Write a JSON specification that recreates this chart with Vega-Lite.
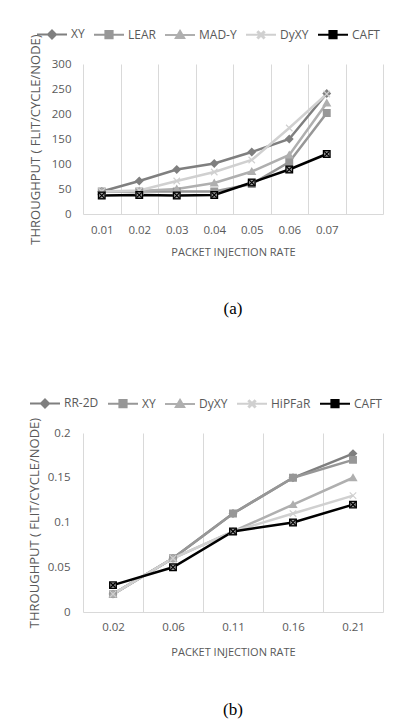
{
  "$schema": "https://vega.github.io/schema/vega-lite/v6.json",
  "background": "white",
  "padding": {"left": 28, "top": 18, "right": 5, "bottom": 5},
  "spacing": 70,
  "datasets": {
    "mesh": [
      {"rate": "0.01", "series": "XY", "value": 45},
      {"rate": "0.02", "series": "XY", "value": 66},
      {"rate": "0.03", "series": "XY", "value": 89},
      {"rate": "0.04", "series": "XY", "value": 101},
      {"rate": "0.05", "series": "XY", "value": 124},
      {"rate": "0.06", "series": "XY", "value": 150},
      {"rate": "0.07", "series": "XY", "value": 241},
      {"rate": "0.01", "series": "LEAR", "value": 45},
      {"rate": "0.02", "series": "LEAR", "value": 45},
      {"rate": "0.03", "series": "LEAR", "value": 45},
      {"rate": "0.04", "series": "LEAR", "value": 45},
      {"rate": "0.05", "series": "LEAR", "value": 60},
      {"rate": "0.06", "series": "LEAR", "value": 104},
      {"rate": "0.07", "series": "LEAR", "value": 202},
      {"rate": "0.01", "series": "MAD-Y", "value": 45},
      {"rate": "0.02", "series": "MAD-Y", "value": 46},
      {"rate": "0.03", "series": "MAD-Y", "value": 50},
      {"rate": "0.04", "series": "MAD-Y", "value": 62},
      {"rate": "0.05", "series": "MAD-Y", "value": 85},
      {"rate": "0.06", "series": "MAD-Y", "value": 118},
      {"rate": "0.07", "series": "MAD-Y", "value": 222},
      {"rate": "0.01", "series": "DyXY", "value": 45},
      {"rate": "0.02", "series": "DyXY", "value": 47},
      {"rate": "0.03", "series": "DyXY", "value": 66},
      {"rate": "0.04", "series": "DyXY", "value": 84},
      {"rate": "0.05", "series": "DyXY", "value": 108},
      {"rate": "0.06", "series": "DyXY", "value": 172},
      {"rate": "0.07", "series": "DyXY", "value": 240},
      {"rate": "0.01", "series": "CAFT", "value": 37},
      {"rate": "0.02", "series": "CAFT", "value": 38},
      {"rate": "0.03", "series": "CAFT", "value": 37},
      {"rate": "0.04", "series": "CAFT", "value": 38},
      {"rate": "0.05", "series": "CAFT", "value": 63},
      {"rate": "0.06", "series": "CAFT", "value": 89},
      {"rate": "0.07", "series": "CAFT", "value": 120}
    ],
    "torus": [
      {"rate": "0.02", "series": "RR-2D", "value": 0.02},
      {"rate": "0.06", "series": "RR-2D", "value": 0.06},
      {"rate": "0.11", "series": "RR-2D", "value": 0.11},
      {"rate": "0.16", "series": "RR-2D", "value": 0.15},
      {"rate": "0.21", "series": "RR-2D", "value": 0.177},
      {"rate": "0.02", "series": "XY", "value": 0.02},
      {"rate": "0.06", "series": "XY", "value": 0.06},
      {"rate": "0.11", "series": "XY", "value": 0.11},
      {"rate": "0.16", "series": "XY", "value": 0.15},
      {"rate": "0.21", "series": "XY", "value": 0.17},
      {"rate": "0.02", "series": "DyXY", "value": 0.02},
      {"rate": "0.06", "series": "DyXY", "value": 0.06},
      {"rate": "0.11", "series": "DyXY", "value": 0.09},
      {"rate": "0.16", "series": "DyXY", "value": 0.12},
      {"rate": "0.21", "series": "DyXY", "value": 0.15},
      {"rate": "0.02", "series": "HiPFaR", "value": 0.02},
      {"rate": "0.06", "series": "HiPFaR", "value": 0.06},
      {"rate": "0.11", "series": "HiPFaR", "value": 0.09},
      {"rate": "0.16", "series": "HiPFaR", "value": 0.11},
      {"rate": "0.21", "series": "HiPFaR", "value": 0.13},
      {"rate": "0.02", "series": "CAFT", "value": 0.03},
      {"rate": "0.06", "series": "CAFT", "value": 0.05},
      {"rate": "0.11", "series": "CAFT", "value": 0.09},
      {"rate": "0.16", "series": "CAFT", "value": 0.10},
      {"rate": "0.21", "series": "CAFT", "value": 0.12}
    ]
  },
  "vconcat": [
    {
      "width": 300,
      "height": 150,
      "data": {"name": "mesh"},
      "title": {"text": "(a)", "orient": "bottom", "font": "Liberation Serif", "fontSize": 17, "fontWeight": "normal", "color": "#000000", "offset": 43},
      "encoding": {
        "x": {
          "field": "rate", "type": "ordinal",
          "scale": {"type": "band", "domain": ["0.01", "0.02", "0.03", "0.04", "0.05", "0.06", "0.07", " "], "paddingInner": 0, "paddingOuter": 0},
          "axis": {"title": "PACKET INJECTION RATE", "labelAngle": 0, "tickBand": "extent", "grid": true, "gridColor": "#d9d9d9", "domain": true, "domainColor": "#d9d9d9", "labelPadding": 10, "titlePadding": 11}
        },
        "y": {
          "field": "value", "type": "quantitative",
          "scale": {"domain": [0, 300], "nice": false},
          "axis": {"title": "THROUGHPUT ( FLIT/CYCLE/NODE)", "values": [0, 50, 100, 150, 200, 250, 300], "labelPadding": 12, "titlePadding": 9}
        },
        "color": {
          "field": "series", "type": "nominal",
          "scale": {"domain": ["XY", "LEAR", "MAD-Y", "DyXY", "CAFT"], "range": ["#7f7f7f", "#979797", "#afafaf", "#d0d0d0", "#000000"]},
          "legend": {
            "orient": "none", "legendX": -47, "legendY": -46, "direction": "horizontal", "title": null,
            "symbolSize": 900, "symbolStrokeWidth": 2, "labelOffset": 3, "columnPadding": 5
          }
        }
      },
      "layer": [
        {"mark": {"type": "line", "strokeWidth": 2.5}},
        {
          "mark": {"type": "point", "filled": true, "size": 1089, "opacity": 1},
          "encoding": {
            "shape": {
              "field": "series", "type": "nominal",
              "scale": {
                "domain": ["XY", "LEAR", "MAD-Y", "DyXY", "CAFT"],
                "range": [
                  "M-1,0H1M0,-0.27L0.27,0L0,0.27L-0.27,0Z",
                  "M-1,0H1M-0.24,-0.24H0.24V0.24H-0.24Z",
                  "M-1,0H1M0,-0.27L0.28,0.21H-0.28Z",
                  "M-1,0H1M-0.22,-0.17L-0.17,-0.22L0.22,0.17L0.17,0.22ZM0.22,-0.17L-0.17,0.22L-0.22,0.17L0.17,-0.22Z",
                  "M-1,0H1M-0.24,-0.24H0.24V0.24H-0.24Z"
                ]
              },
              "legend": null
            }
          }
        },
        {
          "transform": [{"filter": "datum.series === 'CAFT'"}],
          "mark": {"type": "point", "shape": "square", "filled": true, "size": 28, "opacity": 1},
          "encoding": {"color": {"value": "#a0a0a0"}}
        },
        {
          "transform": [{"filter": "datum.series === 'CAFT'"}],
          "mark": {"type": "point", "shape": "M-1,-1L1,1M-1,1L1,-1", "filled": false, "size": 28, "strokeWidth": 1.3, "opacity": 1},
          "encoding": {"color": {"value": "#000000"}}
        }
      ]
    },
    {
      "width": 300,
      "height": 179,
      "data": {"name": "torus"},
      "title": {"text": "(b)", "orient": "bottom", "font": "Liberation Serif", "fontSize": 17, "fontWeight": "normal", "color": "#000000", "offset": 44},
      "encoding": {
        "x": {
          "field": "rate", "type": "ordinal",
          "scale": {"type": "band", "domain": ["0.02", "0.06", "0.11", "0.16", "0.21"], "paddingInner": 0, "paddingOuter": 0},
          "axis": {"title": "PACKET INJECTION RATE", "labelAngle": 0, "tickBand": "extent", "grid": true, "gridColor": "#d9d9d9", "domain": true, "domainColor": "#d9d9d9", "labelPadding": 9, "titlePadding": 14}
        },
        "y": {
          "field": "value", "type": "quantitative",
          "scale": {"domain": [0, 0.2], "nice": false},
          "axis": {"title": "THROUGHPUT ( FLIT/CYCLE/NODE)", "values": [0, 0.05, 0.1, 0.15, 0.2], "format": "~g", "labelPadding": 13, "titlePadding": 6}
        },
        "color": {
          "field": "series", "type": "nominal",
          "scale": {"domain": ["RR-2D", "XY", "DyXY", "HiPFaR", "CAFT"], "range": ["#7f7f7f", "#979797", "#afafaf", "#d0d0d0", "#000000"]},
          "legend": {
            "orient": "none", "legendX": -54, "legendY": -46, "direction": "horizontal", "title": null,
            "symbolSize": 900, "symbolStrokeWidth": 2, "labelOffset": 3, "columnPadding": 5
          }
        }
      },
      "layer": [
        {"mark": {"type": "line", "strokeWidth": 2.5}},
        {
          "mark": {"type": "point", "filled": true, "size": 1089, "opacity": 1},
          "encoding": {
            "shape": {
              "field": "series", "type": "nominal",
              "scale": {
                "domain": ["RR-2D", "XY", "DyXY", "HiPFaR", "CAFT"],
                "range": [
                  "M-1,0H1M0,-0.27L0.27,0L0,0.27L-0.27,0Z",
                  "M-1,0H1M-0.24,-0.24H0.24V0.24H-0.24Z",
                  "M-1,0H1M0,-0.27L0.28,0.21H-0.28Z",
                  "M-1,0H1M-0.22,-0.17L-0.17,-0.22L0.22,0.17L0.17,0.22ZM0.22,-0.17L-0.17,0.22L-0.22,0.17L0.17,-0.22Z",
                  "M-1,0H1M-0.24,-0.24H0.24V0.24H-0.24Z"
                ]
              },
              "legend": null
            }
          }
        },
        {
          "transform": [{"filter": "datum.series === 'CAFT'"}],
          "mark": {"type": "point", "shape": "square", "filled": true, "size": 28, "opacity": 1},
          "encoding": {"color": {"value": "#a0a0a0"}}
        },
        {
          "transform": [{"filter": "datum.series === 'CAFT'"}],
          "mark": {"type": "point", "shape": "M-1,-1L1,1M-1,1L1,-1", "filled": false, "size": 28, "strokeWidth": 1.3, "opacity": 1},
          "encoding": {"color": {"value": "#000000"}}
        }
      ]
    }
  ],
  "resolve": {
    "scale": {"x": "independent", "y": "independent", "color": "independent", "shape": "independent"},
    "legend": {"color": "independent", "shape": "independent"}
  },
  "config": {
    "view": {"stroke": null},
    "font": "Open Sans",
    "axis": {
      "labelFont": "Open Sans", "titleFont": "Open Sans",
      "labelColor": "#595959", "titleColor": "#595959",
      "labelFontSize": 11.5, "titleFontSize": 11, "titleFontWeight": "normal",
      "ticks": false, "tickSize": 0, "domain": false, "grid": false
    },
    "axisY": {"titleFontSize": 13},
    "legend": {"labelFont": "Open Sans", "labelColor": "#595959", "labelFontSize": 12}
  }
}
